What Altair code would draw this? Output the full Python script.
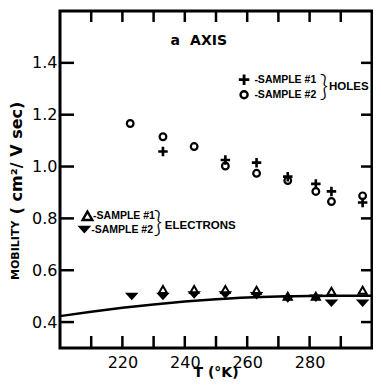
import altair as alt
import pandas as pd

# ---------------- data ----------------
# Holes, sample #1 (+)
holes1_T = [233, 253, 263, 273, 282, 287, 297]
holes1_mu = [1.058, 1.025, 1.015, 0.961, 0.933, 0.904, 0.861]
# Holes, sample #2 (o)
holes2_T = [222.5, 233, 243, 253, 263, 273, 282, 287, 297]
holes2_mu = [1.166, 1.115, 1.077, 1.002, 0.974, 0.946, 0.904, 0.865, 0.887]
# Electrons, sample #1 (open triangle up)
elec1_T = [233, 243, 253, 263, 273, 282, 287, 297]
elec1_mu = [0.526, 0.526, 0.526, 0.523, 0.500, 0.500, 0.519, 0.523]
# Electrons, sample #2 (filled triangle down)
elec2_T = [223, 233, 243, 253, 263, 273, 282, 287, 297]
elec2_mu = [0.500, 0.500, 0.506, 0.506, 0.503, 0.490, 0.493, 0.474, 0.474]
# Smooth curve
curve_T = [200, 210, 220, 230, 240, 250, 260, 270, 280, 290, 300]
curve_mu = [0.423, 0.440, 0.455, 0.468, 0.479, 0.488, 0.495, 0.499, 0.501, 0.502, 0.502]

# axis ticks / labels
x_tick_vals = [210, 220, 230, 240, 250, 260, 270, 280, 290]
x_label_vals = [220, 240, 260, 280]
y_tick_vals = [0.4, 0.6, 0.8, 1.0, 1.2, 1.4]
x_domain = [200, 300]
y_domain = [0.3, 1.6]

# annotations (positions in data units)
ann_bold_text = ["-SAMPLE #1", "-SAMPLE #2", "-SAMPLE #1", "-SAMPLE #2"]
ann_bold_T = [262.3, 262.3, 210.6, 210.0]
ann_bold_mu = [1.335, 1.277, 0.808, 0.756]

ann_group_text = ["HOLES", "ELECTRONS"]
ann_group_T = [286.2, 233.6]
ann_group_mu = [1.308, 0.772]

brace_text = ["}", "}"]
brace_T = [284.6, 231.4]
brace_mu = [1.306, 0.781]

title_text = ["a", "AXIS"]
title_T = [235.4, 241.7]
title_mu = [1.485, 1.485]

leg_plus_T, leg_plus_mu = [259.0], [1.335]
leg_circ_T, leg_circ_mu = [259.0], [1.277]
leg_up_T, leg_up_mu = [208.8], [0.810]
leg_dn_T, leg_dn_mu = [207.8], [0.758]

ylab_text = ["MOBILITY", "( cm\u00b2/ V sec)"]
ylab_T = [186.0, 186.3]
ylab_mu = [0.677, 1.033]

xlab_text = ["T (\u00b0K)"]
xlab_T = [250.0]
xlab_mu = [0.205]

# ---------------- chart ----------------
W, H = 312, 337
FONT = "DejaVu Sans"
LFONT = "Liberation Sans"

xscale = alt.Scale(domain=x_domain, nice=False, zero=False)
yscale = alt.Scale(domain=y_domain, nice=False, zero=False)
xaxis = alt.Axis(values=x_label_vals, title=None, ticks=False, domain=False, grid=False,
                 labelFontSize=16, labelFont=FONT, labelColor="black", labelPadding=6,
                 format="d", labelFlush=False)
yaxis = alt.Axis(values=y_tick_vals, title=None, ticks=False, domain=False, grid=False,
                 labelFontSize=16, labelFont=FONT, labelColor="black", labelPadding=3,
                 format=".1f", labelFlush=False)
X = alt.X("T:Q", scale=xscale, axis=xaxis)
Y = alt.Y("mu:Q", scale=yscale, axis=yaxis)


def df(T, mu, label=None):
    d = {"T": T, "mu": mu}
    if label is not None:
        d["label"] = label
    return pd.DataFrame(d)


xt = pd.DataFrame({"T": x_tick_vals})
yt = pd.DataFrame({"mu": y_tick_vals})

tick_bottom = alt.Chart(xt).mark_rule(color="black", strokeWidth=2.5).encode(
    x=X, y=alt.value(H), y2=alt.value(H - 12))
tick_top = alt.Chart(xt).mark_rule(color="black", strokeWidth=2.5).encode(
    x=X, y=alt.value(0), y2=alt.value(11))
tick_left = alt.Chart(yt).mark_rule(color="black", strokeWidth=2.5).encode(
    y=Y, x=alt.value(0), x2=alt.value(14))
tick_right = alt.Chart(yt).mark_rule(color="black", strokeWidth=2.5).encode(
    y=Y, x=alt.value(W), x2=alt.value(W - 11))

curve = alt.Chart(df(curve_T, curve_mu)).mark_line(
    color="black", strokeWidth=2.5, interpolate="monotone").encode(x=X, y=Y)

PLUS = "M-1,0H1M0,-1V1"
DOWN = "M-1,-0.5L1,-0.5L0,0.6Z"


def pts(T, mu, shape, size, filled, sw=2.2):
    return alt.Chart(df(T, mu)).mark_point(
        shape=shape, size=size, filled=filled, color="black", opacity=1,
        strokeWidth=sw).encode(x=X, y=Y)


p_h1 = pts(holes1_T, holes1_mu, PLUS, 90, False, 2.6)
p_h2 = pts(holes2_T, holes2_mu, "circle", 45, False, 2.2)
p_e1 = pts(elec1_T, elec1_mu, "triangle-up", 66, False, 2.0)
p_e2 = pts(elec2_T, elec2_mu, DOWN, 185, True, 0.5)

l_h1 = pts(leg_plus_T, leg_plus_mu, PLUS, 110, False, 2.8)
l_h2 = pts(leg_circ_T, leg_circ_mu, "circle", 50, False, 2.4)
l_e1 = pts(leg_up_T, leg_up_mu, "triangle-up", 95, False, 2.4)
l_e2 = pts(leg_dn_T, leg_dn_mu, DOWN, 190, True, 0.5)


def txt(T, mu, label, size, weight="bold", align="left", angle=0, font=FONT):
    kw = dict(fontSize=size, fontWeight=weight, align=align, baseline="middle",
              color="black", font=font)
    if angle:
        kw["angle"] = angle
    return alt.Chart(df(T, mu, label)).mark_text(**kw).encode(x=X, y=Y, text="label:N")


t_sample = txt(ann_bold_T, ann_bold_mu, ann_bold_text, 10.5, font=LFONT)
t_group = txt(ann_group_T, ann_group_mu, ann_group_text, 11.5, font=LFONT)
t_brace = txt(brace_T, brace_mu, brace_text, 30, weight=300, align="center", font="Lato")
t_title = txt(title_T, title_mu, title_text, 14)
t_ylab1 = txt(ylab_T[:1], ylab_mu[:1], ylab_text[:1], 11, align="center", angle=270)
t_ylab2 = txt(ylab_T[1:], ylab_mu[1:], ylab_text[1:], 16, align="center", angle=270)
t_xlab = txt(xlab_T, xlab_mu, xlab_text, 14, align="center")

chart = alt.layer(
    tick_bottom, tick_top, tick_left, tick_right,
    curve, p_h1, p_h2, p_e1, p_e2,
    l_h1, l_h2, l_e1, l_e2,
    t_sample, t_group, t_brace, t_title, t_ylab1, t_ylab2, t_xlab,
).properties(
    width=W, height=H,
    autosize=alt.AutoSizeParams(type="none"),
    padding={"left": 52, "top": 3, "right": 1, "bottom": 31},
    background="white",
).configure_view(
    stroke="black", strokeWidth=3
)

chart.save("out.html", embed_options={"renderer": "svg", "actions": False})
